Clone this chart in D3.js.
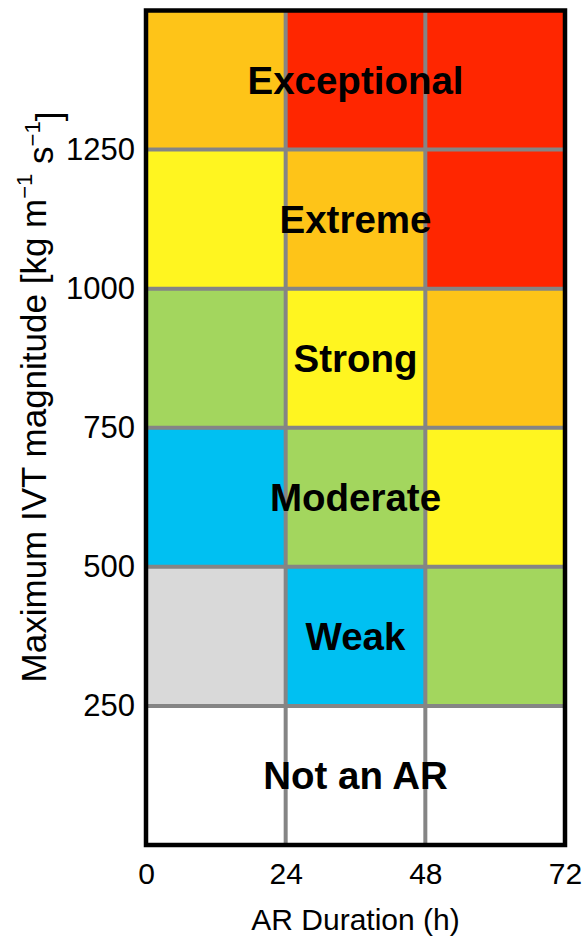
<!DOCTYPE html>
<html>
<head>
<meta charset="utf-8">
<script src="https://cdn.jsdelivr.net/npm/d3@7"></script>
<style>
  body { margin: 0; background: #fff; }
  text { font-family: "Liberation Sans", Arial, Helvetica, sans-serif; }
</style>
</head>
<body>
<div id="chart"></div>
<script>
// duration bins (h) and IVT bins (kg m-1 s-1)
const durationEdges = [0, 24, 48, 72];
const ivtEdges = [0, 250, 500, 750, 1000, 1250, 1500];
const xTicks = [0, 24, 48, 72];
const yTicks = [250, 500, 750, 1000, 1250];

// category rank per cell: rows bottom->top, columns 0-24, 24-48, 48-72
const cellRank = [
  [0, 0, 0],
  [1, 2, 3],
  [2, 3, 4],
  [3, 4, 5],
  [4, 5, 6],
  [5, 6, 6]
];
const rankColors = ["#ffffff", "#d9d9d9", "#00c0f2", "#a3d65e", "#fff520", "#fec418", "#ff2600"];
const categoryLabels = ["Not an AR", "Weak", "Moderate", "Strong", "Extreme", "Exceptional"];

const width = 584;
const height = 942;
const margin = { top: 10.5, right: 19, bottom: 97, left: 146 };

const svg = d3.select("#chart")
  .append("svg")
  .attr("width", width)
  .attr("height", height);

const x = d3.scaleLinear()
  .domain([0, 72])
  .range([margin.left, width - margin.right]);

const y = d3.scaleLinear()
  .domain([0, 1500])
  .range([height - margin.bottom, margin.top]);

// cells
const cells = [];
cellRank.forEach((row, i) => {
  row.forEach((rank, j) => {
    cells.push({ x0: durationEdges[j], x1: durationEdges[j + 1], y0: ivtEdges[i], y1: ivtEdges[i + 1], rank: rank });
  });
});

svg.append("g")
  .selectAll("rect")
  .data(cells)
  .enter()
  .append("rect")
  .attr("x", d => x(d.x0))
  .attr("y", d => y(d.y1))
  .attr("width", d => x(d.x1) - x(d.x0))
  .attr("height", d => y(d.y0) - y(d.y1))
  .attr("fill", d => rankColors[d.rank]);

// grid lines
const grid = svg.append("g").attr("stroke", "#858585").attr("stroke-width", 4);
grid.selectAll("line.v")
  .data([24, 48])
  .enter()
  .append("line")
  .attr("class", "v")
  .attr("x1", d => x(d)).attr("x2", d => x(d))
  .attr("y1", y(0)).attr("y2", y(1500));
grid.selectAll("line.h")
  .data(yTicks)
  .enter()
  .append("line")
  .attr("class", "h")
  .attr("x1", x(0)).attr("x2", x(72))
  .attr("y1", d => y(d)).attr("y2", d => y(d));

// frame
svg.append("rect")
  .attr("x", x(0))
  .attr("y", y(1500))
  .attr("width", x(72) - x(0))
  .attr("height", y(0) - y(1500))
  .attr("fill", "none")
  .attr("stroke", "#000")
  .attr("stroke-width", 4.5);

// category labels
svg.append("g")
  .selectAll("text")
  .data(categoryLabels)
  .enter()
  .append("text")
  .attr("x", x(36))
  .attr("y", (d, i) => y((ivtEdges[i] + ivtEdges[i + 1]) / 2))
  .attr("dy", "0.36em")
  .attr("text-anchor", "middle")
  .attr("font-weight", "bold")
  .attr("font-size", 38.5)
  .attr("fill", "#000")
  .text(d => d);

// axes
const xAxis = svg.append("g")
  .attr("transform", `translate(0,${y(0)})`)
  .call(d3.axisBottom(x).tickValues(xTicks).tickFormat(d3.format("d")).tickSize(0).tickPadding(18));
xAxis.select(".domain").remove();
xAxis.selectAll("text").attr("font-size", 30).attr("font-family", null).attr("fill", "#000");

const yAxis = svg.append("g")
  .attr("transform", `translate(${x(0)},0)`)
  .call(d3.axisLeft(y).tickValues(yTicks).tickFormat(d3.format("d")).tickSize(0).tickPadding(11));
yAxis.select(".domain").remove();
yAxis.selectAll("text").attr("font-size", 31).attr("font-family", null).attr("fill", "#000");

svg.append("text")
  .attr("x", x(36))
  .attr("y", 919)
  .attr("dy", "0.36em")
  .attr("text-anchor", "middle")
  .attr("font-size", 30)
  .text("AR Duration (h)");

const yTitle = svg.append("text")
  .attr("transform", "translate(33,397) rotate(-90)")
  .attr("dy", "0.36em")
  .attr("text-anchor", "middle")
  .attr("font-size", 35);
yTitle.append("tspan").text("Maximum IVT magnitude [kg m");
yTitle.append("tspan").attr("font-size", 22).attr("dy", "-0.6em").text("\u22121");
yTitle.append("tspan").attr("dy", "0.6em").text(" s");
yTitle.append("tspan").attr("font-size", 22).attr("dy", "-0.6em").text("\u22121");
yTitle.append("tspan").attr("dy", "0.6em").text("]");
</script>
</body>
</html>
